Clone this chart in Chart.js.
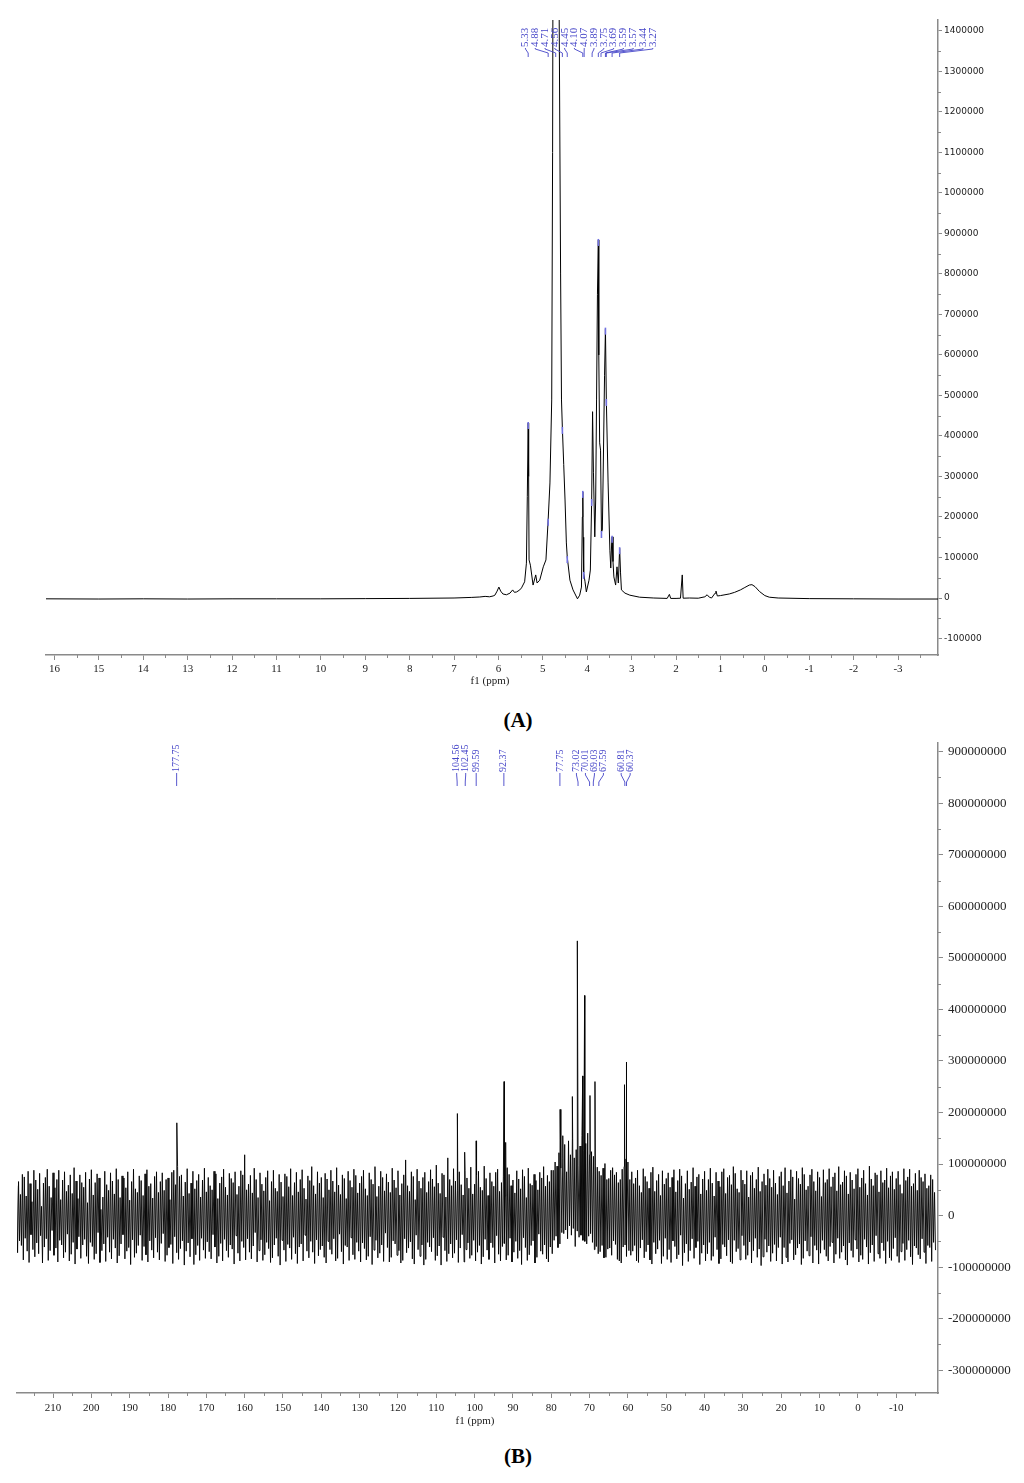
<!DOCTYPE html>
<html>
<head>
<meta charset="utf-8">
<script src="https://cdn.jsdelivr.net/npm/chart.js@4/dist/chart.umd.min.js"></script>
<style>
  body { margin:0; background:#fff; }
  #wrap { position:relative; width:1024px; height:1483px; background:#fff; }
  canvas { position:absolute; left:0; }
  .cap { position:absolute; left:0; width:1036px; text-align:center; font:bold 21px "Liberation Serif", serif; color:#000; line-height:24px; }
</style>
</head>
<body>
<div id="wrap">
  <canvas id="chartA" width="1024" height="700" style="top:0"></canvas>
  <div class="cap" style="top:708px">(A)</div>
  <canvas id="chartB" width="1024" height="700" style="top:730px"></canvas>
  <div class="cap" style="top:1444px">(B)</div>
</div>
<script>
// ---------------- (A) 1H NMR spectrum ----------------
const h1Ppm = [16.2,15.0,14.0,13.0,12.0,11.0,10.0,9.0,8.0,7.0,6.6,6.42,6.3,6.2,6.12,6.08,6.03,5.99,5.95,5.90,5.82,5.74,5.68,5.64,5.59,5.52,5.48,5.41,5.37,5.35,5.33,5.32,5.31,5.28,5.22,5.16,5.13,5.07,4.99,4.93,4.88,4.84,4.80,4.78,4.76,4.72,4.68,4.64,4.60,4.58,4.56,4.53,4.50,4.47,4.45,4.39,4.32,4.22,4.17,4.13,4.11,4.10,4.09,4.08,4.05,4.02,3.96,3.93,3.90,3.88,3.86,3.83,3.81,3.79,3.77,3.75,3.74,3.72,3.70,3.68,3.66,3.64,3.61,3.59,3.57,3.53,3.49,3.47,3.45,3.44,3.42,3.40,3.36,3.33,3.30,3.27,3.25,3.23,3.15,3.04,2.82,2.5,2.2,2.15,2.12,2.0,1.90,1.86,1.84,1.7,1.5,1.35,1.30,1.25,1.20,1.12,1.10,1.07,1.0,0.8,0.68,0.55,0.45,0.35,0.29,0.22,0.12,0.0,-0.1,-0.3,-1.0,-2.0,-3.0,-3.9];
const h1Int = [-2000,-2500,-2000,-2500,-2000,-2000,-2000,-1500,-1000,0,1500,2500,4000,3000,5000,7000,17000,27000,17000,10000,8000,12000,20000,14000,15000,20000,25000,40000,86000,250000,432000,300000,94000,81000,32000,57000,37000,44000,77000,94000,193000,284000,489000,1100000,2200000,3200000,2600000,1600000,800000,489000,420000,330000,242000,136000,101000,44000,20000,-2000,7000,27000,200000,262000,150000,62000,40000,15000,44000,69000,242000,460000,309000,151000,242000,489000,750000,884000,600000,383000,365000,163000,168000,316000,550000,665000,489000,284000,118000,74000,136000,151000,90000,52000,32000,77000,37000,123000,62000,20000,12000,7000,2000,0,-1000,9000,-1000,-1000,-500,57000,-500,0,-500,3000,8000,2000,0,12000,17000,5000,6000,10000,14000,20000,26000,32000,33000,28000,16000,6000,2000,0,-1500,-2000,-2500,-2500];
const h1Labels = ['5.33','4.88','4.71','4.56','4.45','4.10','4.07','3.89','3.75','3.69','3.59','3.57','3.44','3.27'];
const h1XTicks = [16,15,14,13,12,11,10,9,8,7,6,5,4,3,2,1,0,-1,-2,-3];
const h1YTicks = [1400000,1300000,1200000,1100000,1000000,900000,800000,700000,600000,500000,400000,300000,200000,100000,0,-100000];

// ---------------- (B) 13C NMR spectrum ----------------
const c13NoiseStartPpm = 219.5;
const c13NoiseStepPpm = 0.25;
// noise intensities in units of 1e6, read as a dense band
const c13Noise = [
58,-72,66,-49,41,-58,80,-86,75,-44,38,-69,86,-91,62,-37,27,-66,88,-80,69,-53,51,-74,82,-39,18,-92,63,-61,74,-45,90,-87,57,-68,35,-29,83,-77,
54,-63,70,-90,88,-48,31,-57,69,-82,85,-71,47,-36,59,-88,79,-75,43,-52,93,-94,67,-65,33,-41,79,-83,64,-57,55,-46,84,-79,25,-93,71,-52,89,-60,
40,-85,64,-74,81,-33,73,-91,12,-68,36,-55,86,-89,60,-42,49,-71,83,-84,67,-46,42,-63,91,-92,70,-78,35,-55,77,-37,73,-84,54,-69,85,-62,30,-95,
66,-47,90,-81,52,-73,45,-58,77,-38,68,-87,39,-60,81,-76,89,-90,57,-49,62,-67,34,-82,76,-43,85,-71,45,-86,66,-54,83,-35,49,-89,70,-77,73,-62,
31,-56,84,-93,88,-41,60,-72,95,-85,76,-64,79,-49,38,-96,65,-69,91,-53,43,-80,63,-45,86,-95,52,-76,68,-58,80,-87,36,-44,69,-67,92,-83,46,-51,
74,-70,58,-84,50,-37,86,-61,81,-92,33,-79,63,-54,75,-88,90,-46,55,-68,40,-81,82,-57,72,-65,64,-94,85,-39,41,-73,57,-88,87,-50,79,-62,118,-86,
50,-45,61,-71,78,-84,44,-59,92,-33,70,-90,35,-68,83,-47,61,-87,48,-76,74,-52,87,-64,29,-91,66,-82,88,-57,53,-44,47,-79,80,-96,65,-48,37,-67,
81,-89,76,-56,56,-63,91,-85,39,-42,64,-74,84,-93,46,-61,70,-55,89,-88,53,-38,32,-69,77,-82,68,-50,95,-71,58,-93,42,-47,85,-78,63,-66,74,-59,
35,-81,82,-92,71,-50,50,-66,88,-75,67,-45,46,-88,93,-83,59,-36,41,-70,79,-94,72,-58,33,-61,86,-87,68,-43,55,-76,90,-85,78,-52,44,-69,63,-90,
76,-53,88,-64,52,-86,39,-79,83,-41,70,-95,61,-67,95,-48,37,-82,57,-73,86,-57,74,-89,48,-34,81,-62,65,-90,45,-81,92,-49,69,-55,54,-77,87,-68,
40,-92,62,-87,79,-45,108,-72,58,-63,47,-51,85,-84,76,-94,31,-38,90,-66,67,-79,53,-57,74,-96,84,-85,45,-52,66,-61,89,-70,71,-43,56,-87,98,-78,
63,-59,43,-96,82,-42,79,-68,36,-89,112,-74,70,-55,58,-82,91,-73,67,-47,48,-91,85,-63,60,-37,40,-90,87,-66,73,-53,53,-83,94,-77,42,-48,61,-88,
78,-71,86,-58,55,-94,49,-80,96,-46,72,-67,39,-85,83,-53,66,-62,57,-92,84,-39,90,-75,47,-88,64,-60,75,-54,38,-86,93,-77,80,-44,58,-90,69,-71,
44,-50,87,-83,71,-68,52,-95,89,-43,76,-62,35,-87,92,-76,62,-58,59,-49,80,-92,68,-81,50,-36,84,-69,73,-75,95,-57,57,-84,78,-90,66,-61,88,-74,
88,-48,104,-40,96,-62,122,-55,92,-33,110,-35,138,-28,85,-45,145,-20,118,-38,150,-25,112,-60,128,-30,98,-42,135,-38,155,-48,126,-50,140,-55,160,-40,118,-35,
124,-52,115,-66,98,-60,94,-74,86,-70,78,-58,92,-82,101,-81,70,-65,72,-63,88,-77,93,-49,79,-56,84,-85,64,-88,70,-92,90,-61,95,-57,110,-79,104,-68,
70,-77,85,-69,62,-58,73,-88,88,-91,58,-63,45,-47,91,-82,76,-70,66,-57,53,-86,84,-94,94,-52,47,-74,68,-65,80,-48,39,-93,87,-79,61,-44,72,-85,
83,-66,55,-91,74,-49,89,-60,46,-84,68,-76,90,-38,77,-97,34,-72,62,-55,87,-89,51,-68,65,-45,93,-83,57,-62,75,-50,80,-95,42,-73,71,-57,86,-88,
49,-74,70,-52,92,-87,63,-79,38,-42,84,-66,67,-93,56,-84,85,-56,91,-61,43,-78,74,-47,78,-90,60,-93,95,-48,82,-70,52,-64,45,-86,88,-39,69,-58,
61,-85,87,-77,36,-51,78,-92,84,-68,53,-44,70,-81,94,-65,47,-97,66,-80,81,-46,59,-71,90,-59,72,-89,55,-73,88,-56,63,-88,41,-62,76,-42,85,-94,
58,-62,93,-81,44,-90,67,-54,89,-47,75,-86,32,-76,86,-63,72,-55,61,-95,93,-83,80,-49,50,-69,57,-78,79,-41,90,-92,66,-58,48,-67,85,-94,74,-73,
37,-48,89,-66,64,-79,70,-88,91,-60,56,-52,75,-92,83,-75,48,-44,95,-83,60,-71,65,-59,87,-86,77,-96,42,-53,84,-68,69,-81,52,-47,80,-65,91,-90,
55,-77,73,-85,88,-46,62,-61,40,-94,96,-72,71,-57,58,-89,83,-39,79,-74,46,-83,87,-53,64,-68,69,-93,92,-50,54,-82,77,-87,85,-64,51,-43,72,-79,
86,-91,60,-70,43,-54,91,-87,68,-66,75,-48,90,-80,57,-95,62,-59,82,-63,49,-76,88,-84,74,-45,66,-71,81,-93,53,-58,58,-62,79,-89,70,-52,45,-67];
const c13PeakPpm = [177.7,104.5,102.6,99.6,92.3,91.9,77.7,77.0,74.5,73.2,71.8,71.3,69.9,68.6,60.9,60.5];
const c13PeakInt = [180,198,123,145,260,142,206,155,231,533,271,427,233,260,254,298]; // x 1e6
const c13Labels = ['177.75','104.56','102.45','99.59','92.37','77.75','73.02','70.01','69.03','67.59','60.81','60.37'];
const c13XTicks = [210,200,190,180,170,160,150,140,130,120,110,100,90,80,70,60,50,40,30,20,10,0,-10];
const c13YTicks = [900000000,800000000,700000000,600000000,500000000,400000000,300000000,200000000,100000000,0,-100000000,-200000000,-300000000];

// ---------------- build tables ----------------
const h1Data = h1Ppm.map((p,i)=>({x:p, y:h1Int[i]}));
const c13Data = c13Noise.map((v,i)=>({x:c13NoiseStartPpm - i*c13NoiseStepPpm, y:v*1e6}))
  .concat(c13PeakPpm.map((p,i)=>({x:p, y:c13PeakInt[i]*1e6})))
  .sort((a,b)=>b.x-a.x);

function midpoints(arr, lo, hi){
  const s = arr.slice().sort((a,b)=>a-b);
  const step = s[1]-s[0];
  const out = [];
  for (let v = s[0]-step/2; v <= s[s.length-1]+step/2+1e-9; v += step) {
    if (v >= lo && v <= hi) out.push(v);
  }
  return out;
}

const AXIS_COLOR = '#8a8a8a';
const LABEL_BLUE = '#4545c8';

function spread(xs, gap){
  const p = xs.slice();
  for (let it=0; it<800; it++){
    let moved=false;
    for (let i=1;i<p.length;i++){
      const d=p[i]-p[i-1];
      if (d<gap-0.01){ const s=(gap-d)/2; p[i-1]-=s; p[i]+=s; moved=true; }
    }
    if(!moved) break;
  }
  return p;
}

const decorPlugin = {
  id:'decor',
  afterDraw(chart, args, o){
    const ctx = chart.ctx, xs = chart.scales.x, ys = chart.scales.y;
    ctx.save();
    ctx.strokeStyle = AXIS_COLOR; ctx.lineWidth = 1;
    o.xMinor.forEach(v=>{
      const px = Math.round(xs.getPixelForValue(v))+0.5;
      ctx.beginPath(); ctx.moveTo(px, xs.top); ctx.lineTo(px, xs.top+3); ctx.stroke();
    });
    o.yMinor.forEach(v=>{
      const py = Math.round(ys.getPixelForValue(v))+0.5;
      ctx.beginPath(); ctx.moveTo(ys.left, py); ctx.lineTo(ys.left+3, py); ctx.stroke();
    });
    ctx.fillStyle = '#222'; ctx.font = o.titleFont; ctx.textAlign='center'; ctx.textBaseline='middle';
    ctx.fillText('f1 (ppm)', o.titleX, o.titleY);
    const pts = chart.data.datasets[0].data;
    const px = o.labels.map(l=>xs.getPixelForValue(parseFloat(l)));
    const lx = spread(px, o.gap).map(v=>v+o.shift);
    ctx.font = o.labelFont; ctx.fillStyle = LABEL_BLUE; ctx.strokeStyle = LABEL_BLUE; ctx.lineWidth = 0.9;
    o.labels.forEach((l,i)=>{
      ctx.save();
      ctx.translate(lx[i], o.textBottom); ctx.rotate(-Math.PI/2);
      ctx.textAlign='left'; ctx.textBaseline='middle';
      ctx.fillText(l, 0, 0);
      ctx.restore();
      ctx.beginPath();
      ctx.moveTo(lx[i], o.textBottom+1); ctx.lineTo(lx[i], o.y1);
      ctx.lineTo(px[i], o.y2); ctx.lineTo(px[i], o.y3); ctx.stroke();
      if (o.marks){
        const t = parseFloat(l);
        let best = pts[0];
        pts.forEach(p=>{ if (Math.abs(p.x-t) < Math.abs(best.x-t)) best = p; });
        const py = ys.getPixelForValue(best.y);
        if (py > chart.chartArea.top+3){
          ctx.save(); ctx.strokeStyle='#7070e0'; ctx.lineWidth=1.6;
          ctx.beginPath(); ctx.moveTo(xs.getPixelForValue(best.x), py-1); ctx.lineTo(xs.getPixelForValue(best.x), py+6); ctx.stroke();
          ctx.restore();
        }
      }
    });
    ctx.restore();
  }
};

function makeChart(id, data, cfg){
  return new Chart(document.getElementById(id), {
    type:'line',
    data:{ datasets:[{ data, borderColor:'#000', borderWidth:cfg.lineWidth, pointRadius:0, tension:0, fill:false }] },
    options:{
      responsive:false, animation:false, events:[],
      layout:{ padding:{ left:cfg.left, top:cfg.top, right:0, bottom:0 } },
      plugins:{ legend:{display:false}, tooltip:{enabled:false}, decor:cfg.decor },
      scales:{
        x:{
          type:'linear', reverse:true, min:cfg.xMin, max:cfg.xMax, position:'bottom',
          afterBuildTicks: s=>{ s.ticks = cfg.xTicks.map(v=>({value:v})); },
          afterFit: s=>{ s.height = cfg.xHeight; },
          grid:{ drawOnChartArea:false, drawTicks:true, tickLength:5, color:AXIS_COLOR, tickWidth:1 },
          border:{ display:true, color:AXIS_COLOR, width:1.5 },
          ticks:{ autoSkip:false, maxRotation:0, padding:cfg.xPad, color:'#222', font:cfg.xFont, callback:v=>String(v) }
        },
        y:{
          type:'linear', position:'right', min:cfg.yMin, max:cfg.yMax,
          afterBuildTicks: s=>{ s.ticks = cfg.yTicks.map(v=>({value:v})); },
          afterFit: s=>{ s.width = 86; },
          grid:{ drawOnChartArea:false, drawTicks:true, tickLength:cfg.yTickLen, color:AXIS_COLOR, tickWidth:1 },
          border:{ display:true, color:AXIS_COLOR, width:1.5 },
          ticks:{ autoSkip:false, padding:cfg.yPad, color:'#222', font:cfg.yFont, callback:v=>String(v) }
        }
      }
    },
    plugins:[decorPlugin]
  });
}

makeChart('chartA', h1Data, {
  left:46, top:20, xMin:-3.9, xMax:16.19, yMin:-140700, yMax:1427000, lineWidth:1,
  xTicks:h1XTicks, yTicks:h1YTicks, xHeight:45, xPad:3, yPad:2, yTickLen:4,
  xFont:{family:'Liberation Serif', size:11}, yFont:{family:'DejaVu Sans', size:9},
  decor:{
    xMinor: midpoints(h1XTicks, -3.9, 16.19), yMinor: midpoints(h1YTicks, -140700, 1427000),
    titleFont:'11px "Liberation Serif"', titleX:490, titleY:681,
    labels:h1Labels, gap:9.8, shift:6, labelFont:'11px "Liberation Serif"',
    textBottom:47, y1:49, y2:53, y3:57, marks:true
  }
});

makeChart('chartB', c13Data, {
  left:17, top:7, xMin:-20.9, xMax:219.4, yMin:-344200000, yMax:917300000, lineWidth:0.9,
  xTicks:c13XTicks, yTicks:c13YTicks, xHeight:37, xPad:4, yPad:5, yTickLen:5,
  xFont:{family:'Liberation Serif', size:11}, yFont:{family:'Liberation Serif', size:13},
  decor:{
    xMinor: midpoints(c13XTicks, -20.9, 219.4), yMinor: midpoints(c13YTicks, -344200000, 917300000),
    titleFont:'11px "Liberation Serif"', titleX:475, titleY:691,
    labels:c13Labels, gap:9, shift:0, labelFont:'10px "Liberation Serif"',
    textBottom:42, y1:45, y2:52, y3:56, marks:false
  }
});
</script>
</body>
</html>
